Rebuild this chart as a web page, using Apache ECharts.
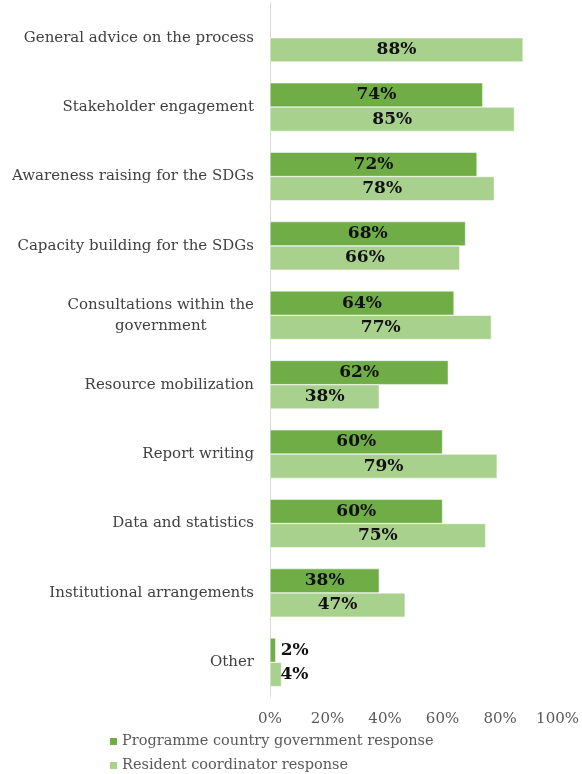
<!DOCTYPE html>
<html><head><meta charset="utf-8">
<script src="https://cdn.jsdelivr.net/npm/echarts@6/dist/echarts.min.js"></script>
<style>html,body{margin:0;padding:0;background:#fff}#c{width:582px;height:774px}</style>
</head><body><div id="c"></div>
<script>
const categories = ['General advice on the process','Stakeholder engagement','Awareness raising for the SDGs','Capacity building for the SDGs','Consultations within the\ngovernment','Resource mobilization','Report writing','Data and statistics','Institutional arrangements','Other'];
const govValues = [null,74,72,68,64,62,60,60,38,2];
const rcValues = [88,85,78,66,77,38,79,75,47,4];
const seriesNames = ['Programme country government response','Resident coordinator response'];
const xTicks = [0,20,40,60,80,100];

const FONT = '"DejaVu Serif", "Liberation Serif", serif';
function mk(vals, dist){
  return vals.map(v => v == null ? null : {
    value: v,
    label: v < 10 ? {position:'right', distance:dist} : {position:'inside'}
  });
}
const chart = echarts.init(document.getElementById('c'));
chart.setOption({
  animation:false,
  textStyle:{fontFamily:FONT},
  grid:{left:270,right:22,top:3,bottom:77,containLabel:false},
  legend:{orient:'vertical',left:103,top:729,height:100,itemWidth:9,itemHeight:9,itemGap:9,icon:'rect',
    textStyle:{fontFamily:FONT,fontSize:14.5,color:'#595959',padding:[0,0,0,-1]},data:seriesNames},
  xAxis:{type:'value',min:0,max:100,interval:20,
    axisLine:{show:false},axisTick:{show:false},splitLine:{show:false},
    axisLabel:{formatter:v=>v+'%',fontFamily:FONT,fontSize:15,color:'#595959',margin:15}},
  yAxis:{type:'category',inverse:true,data:categories,
    axisLine:{show:true,lineStyle:{color:'#d9d9d9',width:1}},axisTick:{show:false},
    axisLabel:{fontFamily:FONT,fontSize:15,color:'#404040',margin:16,
      formatter:v=>'{c|'+v.split('\n').join('}\n{c|')+'}',
      rich:{c:{align:'center',fontFamily:FONT,fontSize:15,color:'#404040',lineHeight:21}}}},
  series:[
    {name:seriesNames[0],type:'bar',data:mk(govValues,5),barGap:'0%',barCategoryGap:'30%',
     itemStyle:{color:'#70AD47',borderColor:'#fff',borderWidth:0.5},
     label:{show:true,formatter:p=>p.value+'%',fontFamily:FONT,fontWeight:'bold',fontSize:17,color:'#111'}},
    {name:seriesNames[1],type:'bar',data:mk(rcValues,-1),barGap:'0%',barCategoryGap:'30%',
     itemStyle:{color:'#A9D18E',borderColor:'#fff',borderWidth:0.5},
     label:{show:true,formatter:p=>p.value+'%',fontFamily:FONT,fontWeight:'bold',fontSize:17,color:'#111'}}
  ]
});
</script></body></html>
